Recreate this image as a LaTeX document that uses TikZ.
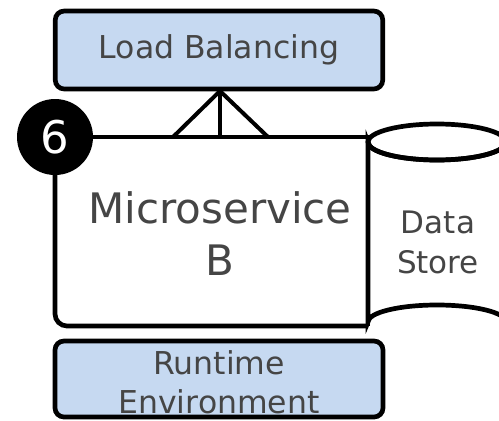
\documentclass[tikz,border=0pt]{standalone}
\usepackage{fontspec}
\setmainfont{DejaVu Sans}
\definecolor{boxblue}{HTML}{C6D9F1}
\definecolor{txtgray}{HTML}{454545}
\begin{document}
\begin{tikzpicture}[x=1pt,y=-1pt,line width=4.7pt,
  bluebox/.style={draw=black,fill=boxblue,rounded corners=9pt,inner sep=0pt,text=txtgray,align=center,font=\fontsize{31.5}{39}\selectfont},
  lbl/.style={text=txtgray,align=center,inner sep=0pt},
  edge/.style={draw=black,line width=4pt}]
\useasboundingbox (0,0) rectangle (499,421);
\clip (0,0) rectangle (499,421);
% Load balancing
\node[bluebox,minimum width=327.5pt,minimum height=78pt] (lb) at (219,50) {Load Balancing};
% Microservice box
\coordinate (tl) at (55,137);
\coordinate (tr) at (368,137);
\coordinate (bl) at (55,326);
\coordinate (br) at (368,326);
\draw[rounded corners=12pt] (tl) -- (bl) -- (br);
\draw (tl) -- (tr) -- (br);
\node[lbl,font=\fontsize{42}{52}\selectfont] (ms) at (220,234) {Microservice\\B};
% Data store cylinder
\coordinate (cyl) at (437,142);
\draw[fill=white] (368,322) -- (368,142) arc[start angle=180,end angle=360,x radius=69pt,y radius=18pt] -- (506,322)
  arc[start angle=0,end angle=180,x radius=69pt,y radius=17pt] -- cycle;
\draw (cyl) ellipse[x radius=69pt,y radius=18pt];
\node[lbl,font=\fontsize{31}{40}\selectfont] (ds) at (438,242) {Data\\Store};
% Runtime
\node[bluebox,minimum width=328pt,minimum height=76pt] (rt) at (219,379) {};
\node[lbl,font=\fontsize{31.5}{39}\selectfont] (rtl) at (219,382) {Runtime\\Environment};
% crow's foot
\coordinate (f1) at (173,137);
\coordinate (f2) at (220,137);
\coordinate (f3) at (268,137);
\coordinate (apex) at (220,91);
\draw[edge] (f1) -- (apex) -- (f3);
\draw[edge] (apex) -- (f2);
% badge
\node[circle,fill=black,draw=none,minimum size=76pt,inner sep=0pt,text=white,font=\fontsize{45}{45}\selectfont] (n6) at (55,137) {6};
\end{tikzpicture}
\end{document}
